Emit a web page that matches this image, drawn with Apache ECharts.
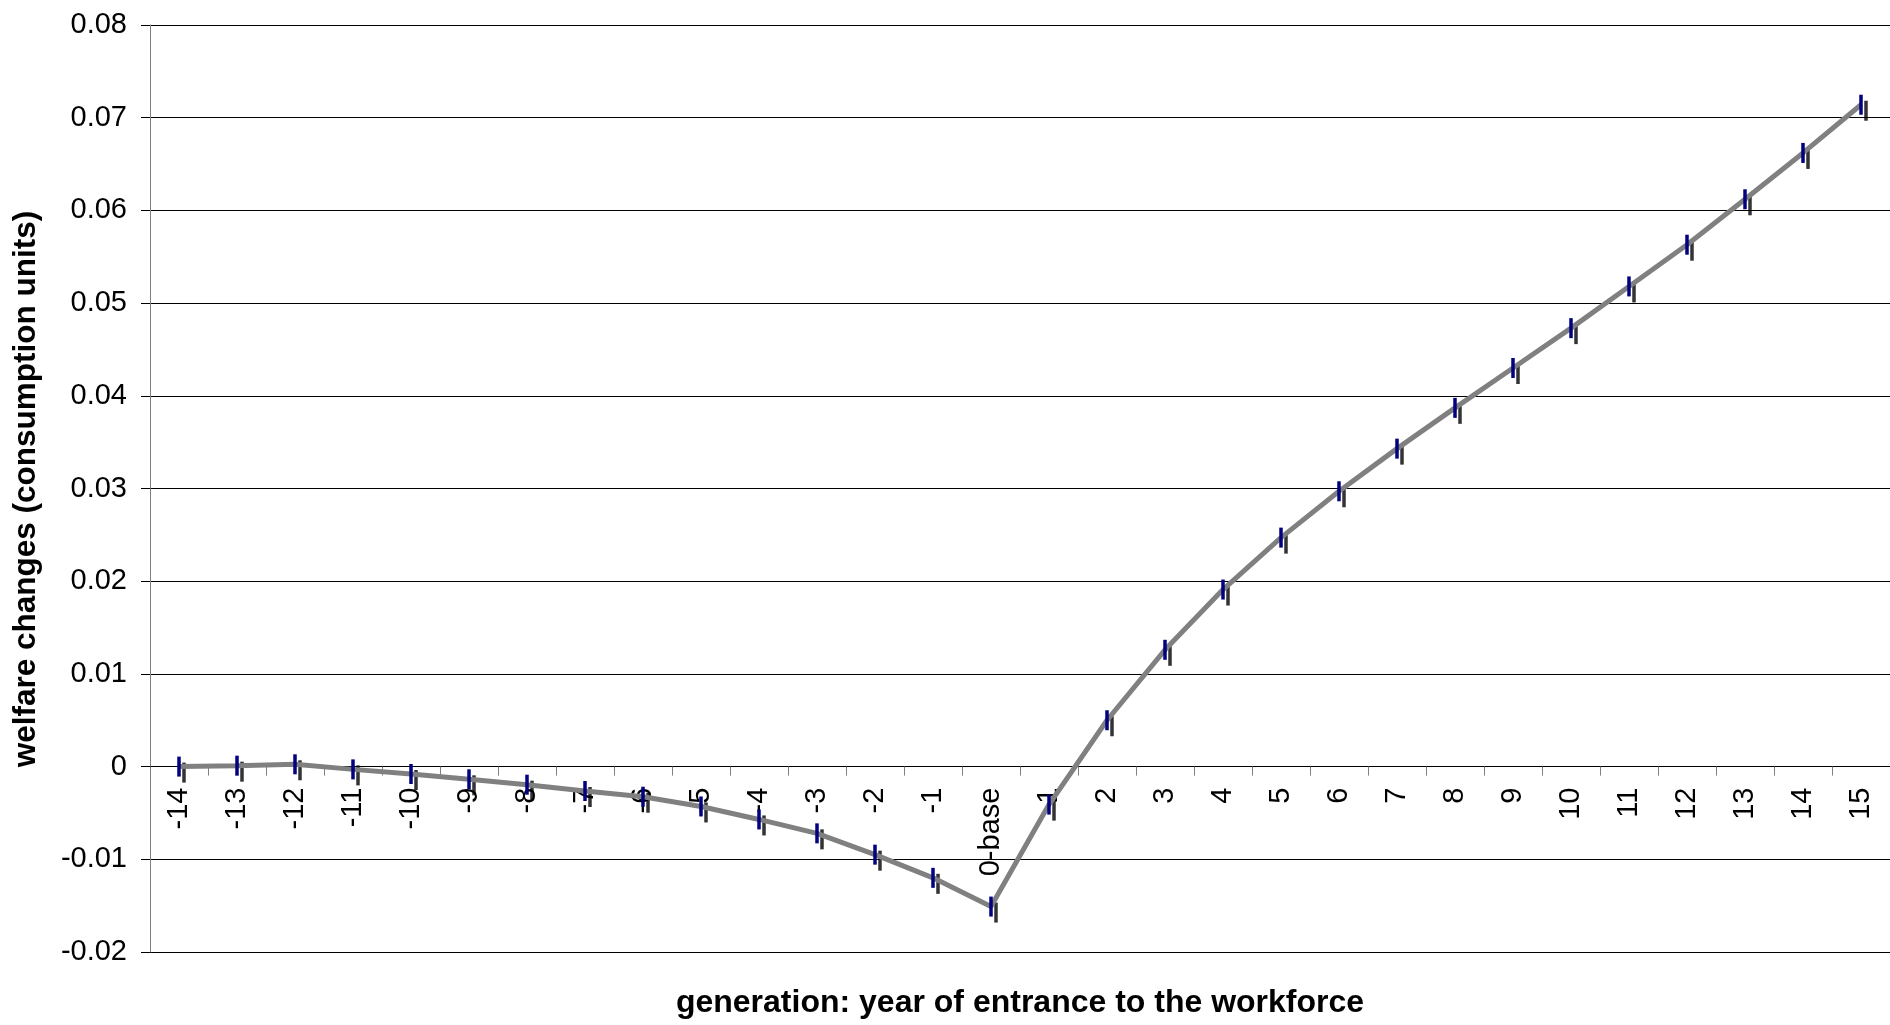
<!DOCTYPE html>
<html>
<head>
<meta charset="utf-8">
<style>
html,body{margin:0;padding:0;background:#fff;}
#chart{width:1890px;height:1025px;}
</style>
<script src="https://cdn.jsdelivr.net/npm/echarts@6/dist/echarts.min.js"></script>
</head>
<body>
<div id="chart"></div>
<script>
var categories = ['-14','-13','-12','-11','-10','-9','-8','-7','-6','-5','-4','-3','-2','-1','0-base','1','2','3','4','5','6','7','8','9','10','11','12','13','14','15'];
var welfare = [0.0000,0.0001,0.00025,-0.0003,-0.0008,-0.00137,-0.00195,-0.00263,-0.00325,-0.0043,-0.0057,-0.0072,-0.0095,-0.0120,-0.0151,-0.0041,0.0050,0.0126,0.0191,0.0247,0.0297,0.0343,0.0387,0.0430,0.0473,0.0518,0.0563,0.0612,0.0662,0.0714];
var yTicks = {min:-0.02, max:0.08, interval:0.01};
var yTitle = 'welfare changes (consumption units)';
var xTitle = 'generation: year of entrance to the workforce';

var FONT = '"Liberation Sans", Arial, sans-serif';
var GRID_TOP = 25, GRID_BOTTOM = 73, H = 1025;
var plotH = H - GRID_TOP - GRID_BOTTOM;
var zeroOffset = -plotH * (0 - yTicks.min) / (yTicks.max - yTicks.min);

var chart = echarts.init(document.getElementById('chart'), null, {renderer:'canvas'});
chart.setOption({
  animation:false,
  backgroundColor:'#fff',
  grid:{left:150, right:0, top:GRID_TOP, bottom:GRID_BOTTOM, containLabel:false},
  xAxis:{
    type:'category',
    data:categories,
    boundaryGap:true,
    position:'bottom',
    offset:zeroOffset,
    axisLine:{onZero:false, lineStyle:{color:'#000', width:1}},
    axisTick:{show:true, inside:false, length:9, alignWithLabel:false, lineStyle:{color:'#808080'}},
    axisLabel:{rotate:90, margin:21, interval:0, color:'#000', fontSize:29, fontFamily:FONT},
    splitLine:{show:false}
  },
  yAxis:{
    type:'value',
    min:yTicks.min, max:yTicks.max, interval:yTicks.interval,
    axisLine:{show:true, lineStyle:{color:'#808080', width:1}},
    axisTick:{show:true, length:9, lineStyle:{color:'#000'}},
    axisLabel:{margin:23, color:'#000', fontSize:29, fontFamily:FONT,
      formatter:function(v){ return String(Math.round(v*100)/100); }},
    splitLine:{show:true, lineStyle:{color:'#000', width:1}}
  },
  graphic:[
    {type:'text', x:26, y:489, rotation:Math.PI/2,
     style:{text:yTitle, font:'bold 31.5px '+FONT, fill:'#000', align:'center', verticalAlign:'middle'}},
    {type:'text', x:1020, y:1003,
     style:{text:xTitle, font:'bold 32px '+FONT, fill:'#000', align:'center', verticalAlign:'middle'}}
  ],
  series:[
    {type:'scatter', data:welfare, symbol:'rect', symbolSize:[3.5,20], symbolOffset:[5,6],
     itemStyle:{color:'#000'}, z:1, silent:true},
    {type:'line', data:welfare, symbol:'rect', symbolSize:[3.5,20], showAllSymbol:true,
     lineStyle:{color:'#808080', width:5}, itemStyle:{color:'#000080', borderWidth:0}, z:2, silent:true}
  ]
});
</script>
</body>
</html>
